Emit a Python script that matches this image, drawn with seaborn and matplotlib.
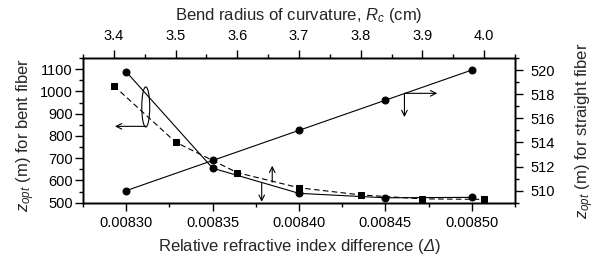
"""z_opt vs relative refractive index difference / bend radius."""

import matplotlib
matplotlib.use("Agg")
import matplotlib.pyplot as plt
from matplotlib.patches import Ellipse
from matplotlib.ticker import MultipleLocator, FormatStrFormatter
import seaborn as sns
import pandas as pd

# data
delta = [0.00830, 0.00835, 0.00840, 0.00845, 0.00850]
z_bent_delta = [1088, 655, 542, 522, 524]
z_straight = [510.0, 512.5, 515.0, 517.5, 520.0]

radius = [3.4, 3.5, 3.6, 3.7, 3.8, 3.9, 4.0]
z_bent_radius = [1025, 772, 635, 567, 535, 517, 515]

df_delta = pd.DataFrame({"delta": delta, "bent": z_bent_delta, "straight": z_straight})
df_radius = pd.DataFrame({"radius": radius, "bent": z_bent_radius})

sns.set_theme(style="ticks")
plt.rcParams["font.family"] = ["Liberation Sans", "DejaVu Sans"]
plt.rcParams["mathtext.fontset"] = "custom"
plt.rcParams["mathtext.rm"] = "Liberation Sans"
plt.rcParams["mathtext.it"] = "Liberation Sans:italic"
plt.rcParams["mathtext.sf"] = "Liberation Sans:italic"   # used for the italic Delta
plt.rcParams["font.size"] = 10
plt.rcParams["axes.linewidth"] = 1.0
for k in ("xtick", "ytick"):
    plt.rcParams[k + ".direction"] = "out"
    plt.rcParams[k + ".major.width"] = 1.0
    plt.rcParams[k + ".minor.width"] = 1.0
    plt.rcParams[k + ".major.size"] = 6
    plt.rcParams[k + ".minor.size"] = 3
    plt.rcParams[k + ".labelsize"] = 10.5
    plt.rcParams[k + ".color"] = "black"

fig = plt.figure(figsize=(5.99, 2.61), dpi=100)
ax = fig.add_axes([0.1386, 0.2234, 0.7212, 0.5544])
ax_top = ax.twiny()
ax_right = ax.twinx()

# bent fiber vs delta (solid, circles)
sns.lineplot(data=df_delta, x="delta", y="bent", ax=ax, color="black", lw=0.8,
             marker="o", markersize=5, markeredgecolor="black")
# straight fiber vs delta (solid, circles, right axis)
sns.lineplot(data=df_delta, x="delta", y="straight", ax=ax_right, color="black", lw=0.8,
             marker="o", markersize=5, markeredgecolor="black")
# bent fiber vs bend radius (dashed, squares, top axis)
sns.lineplot(data=df_radius, x="radius", y="bent", ax=ax_top, color="black", lw=0.8,
             marker="s", markersize=4.5, markeredgecolor="black", linestyle=(0, (5, 3)))

ax.set_xlim(0.008275, 0.008525)
ax.set_ylim(500, 1150)
ax_top.set_xlim(3.35, 4.05)
ax_right.set_ylim(509, 521)

ax.xaxis.set_major_locator(MultipleLocator(0.00005))
ax.xaxis.set_minor_locator(MultipleLocator(0.000025))
ax.xaxis.set_major_formatter(FormatStrFormatter("%.5f"))
ax.yaxis.set_major_locator(MultipleLocator(100))
ax.yaxis.set_minor_locator(MultipleLocator(50))
ax_top.xaxis.set_major_locator(MultipleLocator(0.1))
ax_top.xaxis.set_minor_locator(MultipleLocator(0.05))
ax_top.xaxis.set_major_formatter(FormatStrFormatter("%.1f"))
ax_right.yaxis.set_major_locator(MultipleLocator(2))
ax_right.yaxis.set_minor_locator(MultipleLocator(1))

ax.set_xlabel(r"Relative refractive index difference ($\mathsf{Δ}$)")
ax.set_ylabel(r"$z_{opt}$ (m) for bent fiber")
ax_top.set_xlabel(r"Bend radius of curvature, $R_c$ (cm)")
ax_right.set_ylabel(r"$z_{opt}$ (m) for straight fiber")
ax_top.set_ylabel("")

ax.xaxis.set_label_coords(0.5, -0.24)
ax.yaxis.set_label_coords(-0.106, 0.47)
ax_top.xaxis.set_label_coords(0.5, 1.26)
ax_right.yaxis.set_label_coords(1.136, 0.5)

for a in (ax, ax_top, ax_right):
    for s in a.spines.values():
        s.set_visible(True)
        s.set_color("black")
        s.set_linewidth(1.0)
ax.tick_params(axis="x", which="both", pad=3.5)
ax.tick_params(axis="y", which="both", pad=1.5)
ax_top.tick_params(axis="x", which="both", pad=4.5)
ax_right.tick_params(axis="y", which="both", pad=5)

# annotations
arr = dict(arrowstyle="->", color="black", lw=0.8, shrinkA=0, shrinkB=0)
ax.add_patch(Ellipse((0.0083113, 930), 4.6e-6, 180, fill=False, edgecolor="black", lw=0.8))
ax.annotate("", xy=(0.0082935, 843), xytext=(0.0083113, 843), arrowprops=arr)
ax.annotate("", xy=(0.0083784, 504), xytext=(0.0083784, 587), arrowprops=arr)
ax.annotate("", xy=(0.0083845, 666), xytext=(0.0083845, 592), arrowprops=arr)
ax_right.annotate("", xy=(0.008461, 516.1), xytext=(0.008461, 518.07), arrowprops=arr)
ax_right.annotate("", xy=(0.00848, 518.07), xytext=(0.008461, 518.07), arrowprops=arr)

fig.savefig("out.png", dpi=100)
